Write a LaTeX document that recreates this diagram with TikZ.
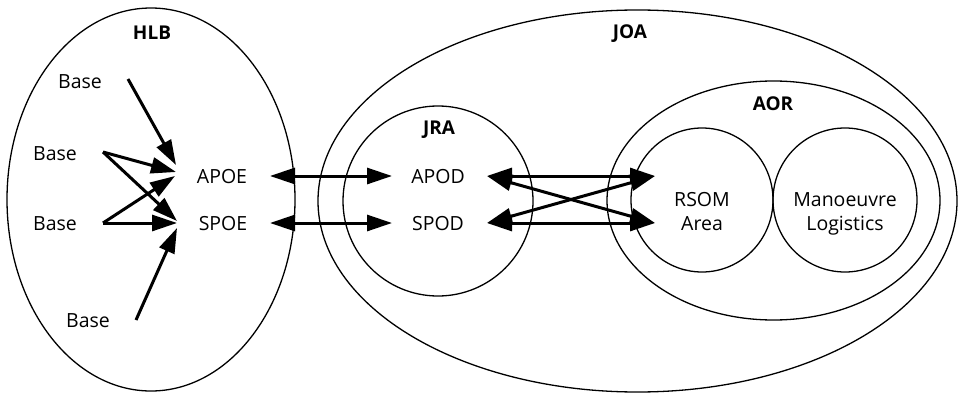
\documentclass[tikz,border=0pt]{standalone}
\usepackage{fontspec}
\setmainfont{Open Sans}
\usetikzlibrary{arrows.meta,shapes.geometric}
\begin{document}
\begin{tikzpicture}[x=1pt,y=-1pt,
  every node/.style={font=\fontsize{19.5}{24}\selectfont, inner sep=0pt},
  lbl/.style={anchor=base},
  ttl/.style={anchor=base, font=\fontsize{19}{24}\selectfont\bfseries},
  zone/.style={draw, ellipse, line width=1.3pt, inner sep=0pt},
  arr/.style={line width=3pt, -{Triangle[length=25pt,width=16pt]}},
  darr/.style={line width=3pt, {Triangle[length=25pt,width=16pt]}-{Triangle[length=25pt,width=16pt]}}]
\useasboundingbox (0,0) rectangle (960,393);
% zones
\node[zone, minimum width=288, minimum height=383] (hlb) at (151,199.5) {};
\node[zone, minimum width=639, minimum height=382] (joa) at (637.5,201) {};
\node[zone, minimum width=190, minimum height=190] (jra) at (438,201) {};
\node[zone, minimum width=333, minimum height=239] (aor) at (773.5,200.5) {};
\node[zone, minimum width=142, minimum height=144] (rsomz) at (702,200) {};
\node[zone, minimum width=144, minimum height=144] (manz) at (845,200) {};
% titles
\node[ttl] (thlb) at (152,39.8) {HLB};
\node[ttl] (tjoa) at (630,38.8) {JOA};
\node[ttl] (tjra) at (439,134.8) {JRA};
\node[ttl] (taor) at (773,110.8) {AOR};
% labels
\node[lbl] (b1) at (80,88.5) {Base};
\node[lbl] (b2) at (55,160) {Base};
\node[lbl] (b3) at (55,230) {Base};
\node[lbl] (b4) at (88,327) {Base};
\node[lbl] (apoe) at (222,183.5) {APOE};
\node[lbl] (spoe) at (223,230) {SPOE};
\node[lbl] (apod) at (438,183) {APOD};
\node[lbl] (spod) at (438,230) {SPOD};
\node[lbl] (rsom) at (702,206) {RSOM};
\node[lbl] (area) at (702,230) {Area};
\node[lbl] (man) at (845,206) {Manoeuvre};
\node[lbl] (logi) at (845,230) {Logistics};
% arrow end points
\coordinate (s1) at (128,79);
\coordinate (s2) at (103,152);
\coordinate (s3) at (103,223);
\coordinate (s4) at (136,320);
\coordinate (a1) at (176,165);
\coordinate (a2) at (176,172);
\coordinate (a3) at (175,176);
\coordinate (p2) at (177,221);
\coordinate (p3) at (177,223);
\coordinate (p4) at (177,228);
\coordinate (eA) at (270,176);
\coordinate (jA) at (392,176);
\coordinate (eS) at (270,223);
\coordinate (jS) at (392,223);
\coordinate (dA) at (487,176);
\coordinate (dS) at (487,223);
\coordinate (rA) at (655,176);
\coordinate (rS) at (655,223);
% HLB arrows
\draw[arr] (s1) -- (a1);
\draw[arr] (s2) -- (a2);
\draw[arr] (s3) -- (a3);
\draw[arr] (s2) -- (p2);
\draw[arr] (s3) -- (p3);
\draw[arr] (s4) -- (p4);
% double arrows
\draw[darr] (eA) -- (jA);
\draw[darr] (eS) -- (jS);
\draw[darr] (dA) -- (rA);
\draw[darr] (dS) -- (rS);
\draw[darr] (dA) -- (rS);
\draw[darr] (dS) -- (rA);
\end{tikzpicture}
\end{document}
